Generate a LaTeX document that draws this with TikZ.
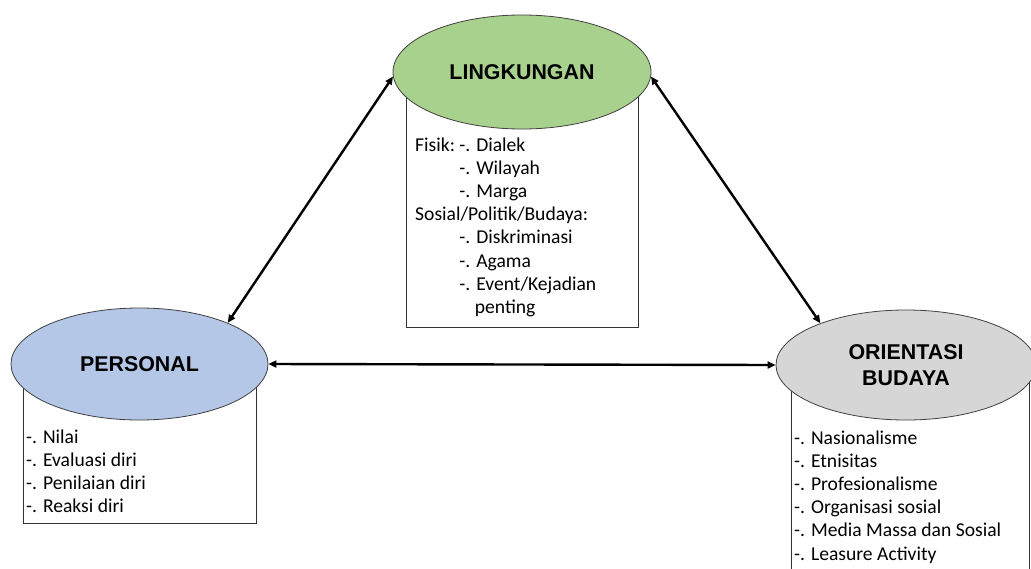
\documentclass[tikz,border=0pt]{standalone}
\usepackage{fontspec}
\setmainfont{Carlito}
\newfontfamily\headfont{Liberation Sans}
\usetikzlibrary{shapes.geometric,arrows.meta}
\definecolor{lgreen}{HTML}{A9D18E}
\definecolor{lblue}{HTML}{B4C7E7}
\definecolor{lgray}{HTML}{D6D6D6}
\newcommand{\fisikind}{\phantom{Fisik:\ }}
\begin{document}
\begin{tikzpicture}[x=1pt,y=-1pt,
  oval/.style={ellipse, draw=black!75, line width=0.8pt, inner sep=0pt,
    font=\headfont\bfseries\fontsize{21.4}{26}\selectfont, align=center},
  listbox/.style={draw=black!80, line width=0.8pt, fill=white, inner sep=0pt, anchor=north west},
  listtext/.style={anchor=base west, inner sep=0pt, font=\fontsize{19.6}{23.2}\selectfont},
  link/.style={line width=2.4pt, {Triangle[length=8pt,width=7pt]}-{Triangle[length=8pt,width=7pt]}}]
\useasboundingbox (0,0) rectangle (1031,568);

% boxes
\node[listbox, minimum width=232pt, minimum height=255pt] (lbox) at (406,72) {};
\node[listbox, minimum width=233pt, minimum height=159pt] (pbox) at (23,364) {};
\node[listbox, minimum width=238pt, minimum height=230pt] (obox) at (791,365) {};

% ellipses
\node[oval, fill=lgreen, minimum width=258pt, minimum height=114pt] (ling) at (522,72) {LINGKUNGAN};
\node[oval, fill=lblue, minimum width=257pt, minimum height=112pt] (pers) at (139.5,364) {PERSONAL};
\node[oval, fill=lgray, minimum width=260pt, minimum height=110pt] (ori) at (906,365) {ORIENTASI\\BUDAYA};

% texts
\node[listtext] (ltext) at (415,151) {\begin{tabular}[t]{@{}l@{}}
Fisik:\ -. Dialek\\
\fisikind-. Wilayah\\
\fisikind-. Marga\\
Sosial/Politik/Budaya:\\
\fisikind-. Diskriminasi\\
\fisikind-. Agama\\
\fisikind-. Event/Kejadian\\
\fisikind\phantom{-.\ }penting
\end{tabular}};
\node[listtext] (ptext) at (26,443) {\begin{tabular}[t]{@{}l@{}}
-. Nilai\\
-. Evaluasi diri\\
-. Penilaian diri\\
-. Reaksi diri
\end{tabular}};
\node[listtext] (otext) at (794,444) {\begin{tabular}[t]{@{}l@{}}
-. Nasionalisme\\
-. Etnisitas\\
-. Profesionalisme\\
-. Organisasi sosial\\
-. Media Massa dan Sosial\\
-. Leasure Activity
\end{tabular}};

% connectors
\draw[link] (ling.182) -- (pers.25);
\draw[link] (ling.358) -- (ori.154);
\draw[link] (pers.east) -- (ori.west);
\end{tikzpicture}
\end{document}
